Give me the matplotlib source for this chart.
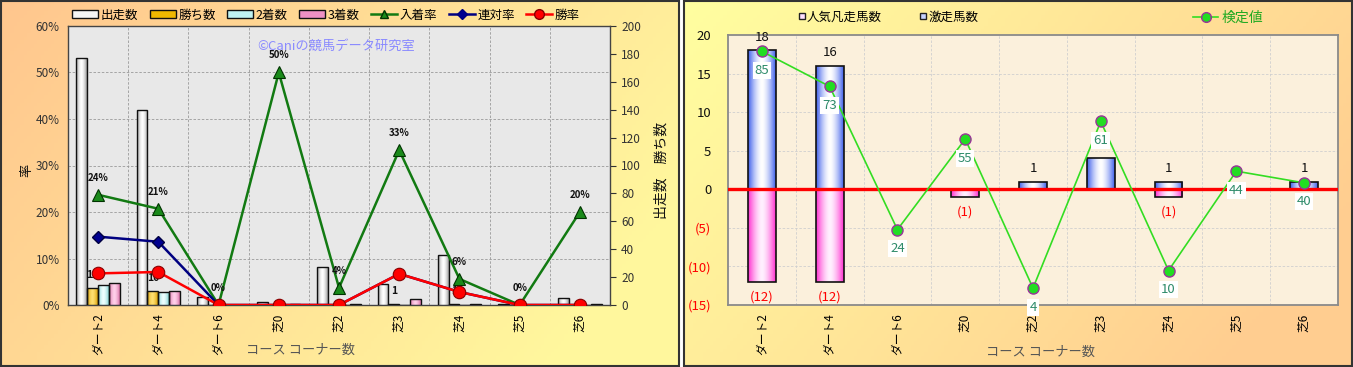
import numpy as np
import matplotlib
matplotlib.use('Agg')
import matplotlib.pyplot as plt
from matplotlib.lines import Line2D
from matplotlib.patches import Patch, Rectangle

plt.rcParams['font.family'] = ['Noto Sans CJK JP', 'DejaVu Sans']

# ---------------- data ----------------
categories = ['ダート2', 'ダート4', 'ダート6', '芝0', '芝2', '芝3', '芝4', '芝5', '芝6']

runs = [177, 140, 6, 2, 27, 15, 36, 1, 5]          # 出走数
wins = [12, 10, 0, 0, 0, 1, 1, 0, 0]               # 勝ち数
seconds = [14, 9, 0, 0, 0, 0, 0, 0, 0]             # 2着数
thirds = [16, 10, 0, 1, 1, 4, 1, 0, 1]             # 3着数
place_rate = [23.7, 20.7, 0, 50, 3.7, 33.3, 5.6, 0, 20]       # 入着率 %
place_rate_labels = ['24%', '21%', '0%', '50%', '4%', '33%', '6%', '0%', '20%']
quinella_rate = [14.7, 13.6, 0, 0, 0, 6.7, 2.8, 0, 0]         # 連対率 %
win_rate = [6.8, 7.1, 0, 0, 0, 6.7, 2.8, 0, 0]                # 勝率 %

upset_counts = [18, 16, 0, 0, 1, 4, 1, 0, 1]       # 激走馬数
flop_counts = [-12, -12, 0, -1, 0, 0, -1, 0, 0]    # 人気凡走馬数
test_values = [85, 73, 24, 55, 4, 61, 10, 44, 40]  # 検定値

W, H = 1353, 367
fig = plt.figure(figsize=(W / 100, H / 100), dpi=100)


def fx(px):
    return px / W


def fy(py):
    return 1 - py / H


def hexrgb(h):
    h = h.lstrip('#')
    return np.array([int(h[i:i + 2], 16) / 255 for i in (0, 2, 4)])


# ---------------- panel backgrounds ----------------
bg = fig.add_axes([0, 0, 1, 1])
bg.set_xlim(0, W)
bg.set_ylim(H, 0)
bg.axis('off')


def diag_grad(c0, c1, w, h):
    yy, xx = np.mgrid[0:1:h * 1j, 0:1:w * 1j]
    t = np.clip(xx * 0.8 + yy * 0.35, 0, 1)[..., None] / 1.15
    return hexrgb(c0) * (1 - t) + hexrgb(c1) * t


bg.imshow(diag_grad('#FFC68E', '#FFFFA0', 200, 100), extent=(0, 680, H, 0), aspect='auto')
bg.imshow(diag_grad('#FFFFA0', '#FFC68E', 200, 100), extent=(683, W, H, 0), aspect='auto')
bg.set_xlim(0, W)
bg.set_ylim(H, 0)
bg.add_patch(Rectangle((1, 1), 678, H - 2.5, fill=False, ec='#333333', lw=1.5))
bg.add_patch(Rectangle((684, 1), W - 685.5, H - 2.5, fill=False, ec='#333333', lw=1.5))


def shade_bars(ax, bars, edge_hex, center_hex='#FFFFFF'):
    n = 64
    t = np.abs(np.linspace(-1, 1, n)) ** 1.6
    e, c = hexrgb(edge_hex), hexrgb(center_hex)
    grad = (c[None, :] * (1 - t[:, None]) + e[None, :] * t[:, None])[None, :, :]
    for b in bars:
        x0 = b.get_x()
        x1 = x0 + b.get_width()
        y0 = b.get_y()
        y1 = y0 + b.get_height()
        b.set_facecolor('none')
        if y1 == y0:
            continue
        im = ax.imshow(grad, extent=(x0, x1, min(y0, y1), max(y0, y1)),
                       aspect='auto', zorder=b.get_zorder() - 0.01, interpolation='bilinear')
        im.set_clip_path(b)


# ---------------- left chart ----------------
x = np.arange(len(categories))
axb = fig.add_axes([fx(68), fy(305), fx(610 - 68), (305 - 26) / H])
axb.set_facecolor('#E8E8E8')
bw = 0.18
offs = [-0.27, -0.09, 0.09, 0.27]
b_runs = axb.bar(x + offs[0], runs, bw, edgecolor='#111111', lw=1, zorder=3)
b_wins = axb.bar(x + offs[1], wins, bw, edgecolor='#111111', lw=1, zorder=3)
b_sec = axb.bar(x + offs[2], seconds, bw, edgecolor='#111111', lw=1, zorder=3)
b_thr = axb.bar(x + offs[3], thirds, bw, edgecolor='#111111', lw=1, zorder=3)
shade_bars(axb, b_runs, '#9A9A9A', '#FFFFFF')
shade_bars(axb, b_wins, '#D49A00', '#FFE070')
shade_bars(axb, b_sec, '#7FD0D0', '#EEFFFF')
shade_bars(axb, b_thr, '#D86FA6', '#FFD0EA')

for b, v in zip(b_wins, wins):
    if v > 0:
        axb.annotate(str(v), (b.get_x() + b.get_width() / 2, v), xytext=(0, 13),
                     textcoords='offset pixels', ha='center', va='center',
                     fontsize=7.5, fontweight='bold', color='#111111', zorder=5)

axb.set_xlim(-0.5, len(categories) - 0.5)
axb.set_ylim(0, 200)
pct_ticks = np.arange(0, 61, 10)
for p in pct_ticks[1:-1]:
    axb.axhline(p / 60 * 200, color='#9A9A9A', ls=(0, (3, 2)), lw=0.6, zorder=1)
for bnd in np.arange(0.5, len(categories) - 0.5, 1):
    axb.axvline(bnd, color='#9A9A9A', ls=(0, (3, 2)), lw=0.6, zorder=1)
axb.set_xticks(x)
axb.set_xticklabels(categories, rotation=90, fontsize=8.5)
axb.tick_params(axis='x', length=0, pad=6)
for sp in axb.spines.values():
    sp.set_color('#444444')
    sp.set_linewidth(1)

axl = axb.twinx()
# twinx moves the original ticks to the left: put the count axis on the right again
axb.yaxis.tick_right()
axb.yaxis.set_label_position('right')
axb.set_yticks(np.arange(0, 201, 20))
axb.tick_params(axis='y', which='both', left=False, labelleft=False, right=True, labelright=True,
                direction='out', length=4, labelsize=8.5, colors='#333333', pad=4)
axl.yaxis.tick_left()
axl.set_ylim(0, 60)
axl.set_yticks(pct_ticks)
axl.set_yticklabels([f'{p}%' for p in pct_ticks])
axl.tick_params(axis='y', right=False, labelright=False, left=True, labelleft=True,
                length=0, labelsize=8.5, colors='#333333', pad=6)
for sp in axl.spines.values():
    sp.set_visible(False)

axl.plot(x, place_rate, color='#127A12', lw=1.8, marker='^', ms=8,
         mfc='#1A8A1A', mec='#003300', mew=0.8, zorder=4)
axl.plot(x, quinella_rate, color='#000080', lw=1.8, marker='D', ms=6.5,
         mfc='#000090', mec='#000040', zorder=5)
axl.plot(x, win_rate, color='#FF0000', lw=1.8, marker='o', ms=9,
         mfc='#FF0000', mec='#880000', mew=0.8, zorder=6)
for i, (v, lab) in enumerate(zip(place_rate, place_rate_labels)):
    axl.annotate(lab, (i, v), xytext=(0, 17), textcoords='offset pixels',
                 ha='center', va='center', fontsize=7, fontweight='bold',
                 color='#111111', zorder=7)

leg_handles = [
    Patch(facecolor='#F4F4F4', edgecolor='#111111', label='出走数'),
    Patch(facecolor='#F0B800', edgecolor='#111111', label='勝ち数'),
    Patch(facecolor='#BFF2F2', edgecolor='#111111', label='2着数'),
    Patch(facecolor='#EE90C4', edgecolor='#111111', label='3着数'),
    Line2D([], [], color='#127A12', lw=1.8, marker='^', ms=6, mfc='#1A8A1A', mec='#003300', label='入着率'),
    Line2D([], [], color='#000080', lw=1.8, marker='D', ms=5, mfc='#000090', label='連対率'),
    Line2D([], [], color='#FF0000', lw=1.8, marker='o', ms=7, mfc='#FF0000', mec='#880000', label='勝率'),
]
fig.legend(handles=leg_handles, loc='center', bbox_to_anchor=(fx(326), fy(15)), ncol=7,
           frameon=False, fontsize=9, handlelength=2.1, handleheight=0.55,
           handletextpad=0.2, columnspacing=0.9, borderpad=0)

fig.text(fx(336), fy(46), '©Caniの競馬データ研究室', color='#8A8AFF', fontsize=9.5,
         ha='center', va='center')
fig.text(fx(27), fy(170), '率', rotation=90, fontsize=9.5, ha='center', va='center', color='#111111')
fig.text(fx(662), fy(170), '出走数　勝ち数', rotation=90, fontsize=10, ha='center', va='center', color='#111111')
fig.text(fx(300), fy(350), 'コース コーナー数', fontsize=9.5, ha='center', va='center', color='#555555')

# ---------------- right chart ----------------
axr = fig.add_axes([fx(728), fy(305), fx(1338 - 728), (305 - 35) / H])
axr.set_facecolor('#FBF0DC')
rbw = 0.41
b_flop = axr.bar(x, flop_counts, rbw, edgecolor='#111111', lw=1.2, zorder=3)
b_up = axr.bar(x, upset_counts, rbw, edgecolor='#111111', lw=1.2, zorder=3)
shade_bars(axr, b_flop, '#FF2ECF', '#FFF0FF')
shade_bars(axr, b_up, '#3D5EEA', '#FFFFFF')
for b, v in zip(b_flop, flop_counts):
    if v < 0:
        axr.annotate(f'({-v})', (b.get_x() + b.get_width() / 2, v), xytext=(0, -15),
                     textcoords='offset pixels', ha='center', va='center',
                     fontsize=9.5, color='#FF0000', zorder=5)
for b, v in zip(b_up, upset_counts):
    if v > 0:
        axr.annotate(str(v), (b.get_x() + b.get_width() / 2, v), xytext=(0, 13),
                     textcoords='offset pixels', ha='center', va='center',
                     fontsize=9.5, color='#111111', zorder=5)
axr.axhline(0, color='#FF0000', lw=2.4, zorder=4)
axr.set_xlim(-0.5, len(categories) - 0.5)
axr.set_ylim(-15, 20)
rticks = np.arange(-15, 21, 5)
axr.set_yticks(rticks)
axr.set_yticklabels([str(t) if t >= 0 else f'({-t})' for t in rticks])
for t, lab in zip(rticks, axr.get_yticklabels()):
    lab.set_color('#FF0000' if t < 0 else '#111111')
axr.tick_params(axis='y', length=0, labelsize=9.5, pad=12)
for t in rticks[1:-1]:
    axr.axhline(t, color='#CFCFCF', ls=(0, (3, 2)), lw=0.6, zorder=1)
for bnd in np.arange(0.5, len(categories) - 0.5, 1):
    axr.axvline(bnd, color='#CFCFCF', ls=(0, (3, 2)), lw=0.6, zorder=1)
axr.set_xticks(x)
axr.set_xticklabels(categories, rotation=90, fontsize=8.5)
axr.tick_params(axis='x', length=0, pad=6)
for sp in axr.spines.values():
    sp.set_color('#8A8A8A')
    sp.set_linewidth(1.3)

axt = axr.twinx()
axt.set_ylim(-1.8, 90.6)
axt.axis('off')
axt.plot(x, test_values, color='#33DD22', lw=1.2, marker='o', ms=8,
         mfc='#22DD22', mec='#993399', mew=1, zorder=6)
for i, v in enumerate(test_values):
    axt.annotate(str(v), (i, v), xytext=(0, -19), textcoords='offset pixels',
                 ha='center', va='center', fontsize=9.5, color='#2E8B6A', zorder=7,
                 annotation_clip=False,
                 bbox=dict(boxstyle='square,pad=0.15', fc='white', ec='none'))

h1 = [Line2D([], [], ls='none', marker='s', ms=5, mfc='#FFE0FF', mec='#222222', label='人気凡走馬数'),
      Line2D([], [], ls='none', marker='s', ms=5, mfc='#C8D4FF', mec='#222222', label='激走馬数')]
fig.legend(handles=h1, loc='center', bbox_to_anchor=(fx(888), fy(17)), ncol=2, frameon=False,
           fontsize=9, handlelength=0.6, handletextpad=0.1, columnspacing=3.0, borderpad=0)
h2 = [Line2D([], [], color='#33DD22', lw=1.2, marker='o', ms=7, mfc='#22DD22', mec='#993399', label='検定値')]
lg2 = fig.legend(handles=h2, loc='center', bbox_to_anchor=(fx(1228), fy(18)), frameon=False,
                 fontsize=10, handlelength=1.8, handletextpad=0.2, borderpad=0)
for t in lg2.get_texts():
    t.set_color('#22AA22')
fig.text(fx(1040), fy(352), 'コース コーナー数', fontsize=9.5, ha='center', va='center', color='#555555')

fig.savefig('out.png', dpi=100)
